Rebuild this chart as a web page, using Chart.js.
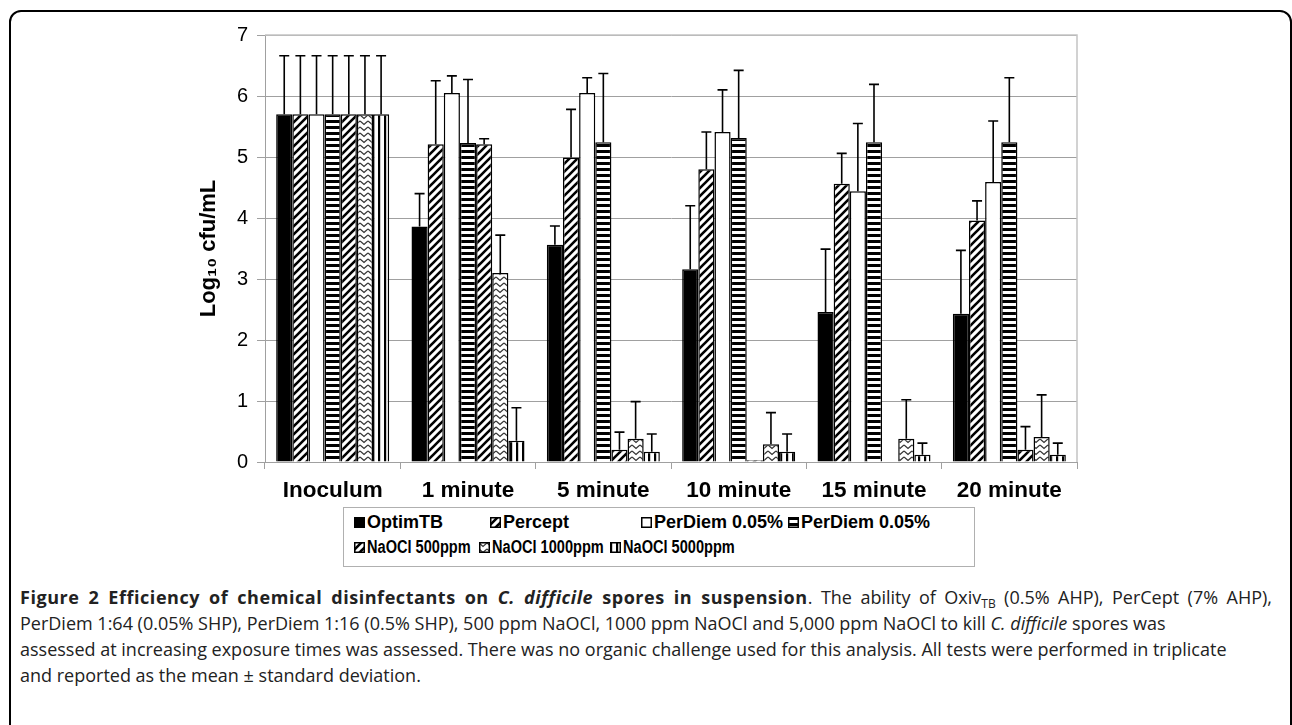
<!DOCTYPE html>
<html>
<head>
<meta charset="utf-8">
<script src="https://cdn.jsdelivr.net/npm/chart.js@4"></script>
<style>
  html, body { margin: 0; padding: 0; background: #fff; }
  body { width: 1292px; height: 725px; position: relative; overflow: hidden; }
  #frame { position: absolute; left: 9px; top: 10px; width: 1283px; height: 760px;
           border: 2px solid #000; border-radius: 12px; box-sizing: border-box; }
  #chart { position: absolute; left: 0; top: 0; }
  #legend { position: absolute; left: 343px; top: 507px; width: 632px; height: 60px;
            border: 1px solid #b0b0b0; box-sizing: border-box;
            font: bold 18px "Liberation Sans", Arial, sans-serif; }
  .item { position: absolute; height: 20px; line-height: 20px; white-space: nowrap; }
  .item canvas { position: absolute; left: 0; top: 5px; }
  .item span { position: absolute; left: 13px; top: 0; transform-origin: 0 50%; }
  #caption { position: absolute; left: 20px; top: 584px; width: 1252px;
             font: 18px "Open Sans", sans-serif; color: #222; line-height: 26px; }
  #caption div { white-space: nowrap; height: 26px; }
  #caption .first { text-align: justify; text-align-last: justify; white-space: normal; }
  #caption b { letter-spacing: 0.55px; }
  #caption sub { font-size: 12px; line-height: 0; vertical-align: -4px; }
</style>
</head>
<body>
<div id="frame"></div>
<canvas id="chart" width="1292" height="505"></canvas>
<div id="legend"></div>
<div id="caption">
  <div class="first"><b>Figure 2 Efficiency of chemical disinfectants on <i>C. difficile</i> spores in suspension</b>. The ability of Oxiv<sub>TB</sub> (0.5% AHP), PerCept (7% AHP),</div>
  <div>PerDiem 1:64 (0.05% SHP), PerDiem 1:16 (0.5% SHP), 500 ppm NaOCl, 1000 ppm NaOCl and 5,000 ppm NaOCl to kill <i>C. difficile</i> spores was</div>
  <div>assessed at increasing exposure times was assessed. There was no organic challenge used for this analysis. All tests were performed in triplicate</div>
  <div>and reported as the mean ± standard deviation.</div>
</div>
<script>
// ── Data ────────────────────────────────────────────────────────────────
const categories = ['Inoculum', '1 minute', '5 minute', '10 minute', '15 minute', '20 minute'];

const seriesNames = ['OptimTB', 'Percept', 'PerDiem 0.05%', 'PerDiem 0.05%',
                     'NaOCl 500ppm', 'NaOCl 1000ppm', 'NaOCl 5000ppm'];

const optimTB      = [5.70, 3.86, 3.56, 3.16, 2.46, 2.43];
const percept      = [5.70, 5.21, 4.99, 4.80, 4.56, 3.96];
const perDiemLow   = [5.70, 6.05, 6.05, 5.41, 4.44, 4.59];
const perDiemHigh  = [5.70, 5.23, 5.24, 5.31, 5.24, 5.24];
const naocl500     = [5.70, 5.21, 0.20, 0.03, null, 0.20];
const naocl1000    = [5.70, 3.10, 0.38, 0.29, 0.38, 0.41];
const naocl5000    = [5.70, 0.35, 0.17, 0.17, 0.12, 0.12];

const optimTBErr     = [0.96, 0.54, 0.31, 1.04, 1.03, 1.04];
const perceptErr     = [0.96, 1.04, 0.79, 0.61, 0.50, 0.32];
const perDiemLowErr  = [0.96, 0.28, 0.25, 0.69, 1.11, 1.00];
const perDiemHighErr = [0.96, 1.04, 1.13, 1.11, 0.95, 1.06];
const naocl500Err    = [0.96, 0.09, 0.29, 0, 0, 0.38];
const naocl1000Err   = [0.96, 0.62, 0.61, 0.52, 0.64, 0.69];
const naocl5000Err   = [0.96, 0.54, 0.29, 0.29, 0.19, 0.19];

const yTicks = [0, 1, 2, 3, 4, 5, 6, 7];

// ── Fill patterns (Excel-like black & white) ────────────────────────────
function tile(w, h, draw) {
  const c = document.createElement('canvas');
  c.width = w; c.height = h;
  const g = c.getContext('2d');
  g.fillStyle = '#fff';
  g.fillRect(0, 0, w, h);
  g.fillStyle = '#000';
  g.strokeStyle = '#000';
  draw(g);
  return c;
}

const TILES = {
  solid: tile(4, 4, g => g.fillRect(0, 0, 4, 4)),
  white: tile(4, 4, () => {}),
  diag: tile(8, 8, g => {
    g.lineWidth = 2.6;
    g.beginPath();
    g.moveTo(-2, 10); g.lineTo(10, -2);
    g.moveTo(-2, 2);  g.lineTo(2, -2);
    g.moveTo(6, 10);  g.lineTo(10, 6);
    g.stroke();
  }),
  hstripe: tile(6, 6, g => g.fillRect(0, 0, 6, 3)),
  zigzag: tile(8, 6, g => {
    g.strokeStyle = '#333';
    g.lineWidth = 1.3;
    g.beginPath();
    g.moveTo(0, 1); g.lineTo(4, 4.5); g.lineTo(8, 1);
    g.stroke();
  }),
  vstripe: tile(6, 6, g => g.fillRect(0, 0, 2.2, 6)),
};

const ctx = document.getElementById('chart').getContext('2d');
const pat = k => ctx.createPattern(TILES[k], 'repeat');

const fills = ['solid', 'diag', 'white', 'hstripe', 'diag', 'zigzag', 'vstripe'];
const values = [optimTB, percept, perDiemLow, perDiemHigh, naocl500, naocl1000, naocl5000];
const errors = [optimTBErr, perceptErr, perDiemLowErr, perDiemHighErr, naocl500Err, naocl1000Err, naocl5000Err];

// ── Plugins ────────────────────────────────────────────────────────────
const errorBars = {
  id: 'errorBars',
  afterDatasetsDraw(chart) {
    const c = chart.ctx, y = chart.scales.y;
    c.save();
    c.strokeStyle = '#000';
    c.lineWidth = 1.6;
    chart.data.datasets.forEach((ds, i) => {
      chart.getDatasetMeta(i).data.forEach((bar, j) => {
        const v = ds.data[j], e = ds.err[j];
        if (v == null || !e) return;
        const top = y.getPixelForValue(v + e);
        c.beginPath();
        c.moveTo(bar.x, bar.y);
        c.lineTo(bar.x, top);
        c.moveTo(bar.x - 5, top);
        c.lineTo(bar.x + 5, top);
        c.stroke();
      });
    });
    c.restore();
  },
};

const plotBorder = {
  id: 'plotBorder',
  beforeDatasetsDraw(chart) {
    const { left, top, right, bottom } = chart.chartArea;
    const c = chart.ctx;
    c.save();
    c.strokeStyle = '#c4c4c4';
    c.lineWidth = 1.5;
    c.beginPath();
    c.moveTo(left, top); c.lineTo(right, top); c.lineTo(right, bottom);
    c.stroke();
    c.restore();
  },
};

// ── Chart ────────────────────────────────────────────────────────────
const chart = new Chart(ctx, {
  type: 'bar',
  data: {
    labels: categories,
    datasets: seriesNames.map((name, i) => ({
      label: name,
      data: values[i],
      err: errors[i],
      backgroundColor: pat(fills[i]),
      borderColor: '#000',
      borderWidth: 1.5,
      borderSkipped: 'bottom',
      categoryPercentage: 0.835,
      barPercentage: 1.0,
    })),
  },
  options: {
    responsive: false,
    animation: false,
    layout: { padding: { left: 195, top: 35, right: 215, bottom: 0 } },
    plugins: { legend: { display: false }, tooltip: { enabled: false } },
    scales: {
      x: {
        afterFit: s => { s.height = 43; },
        grid: { drawOnChartArea: false, drawTicks: true, tickLength: 7, offset: true, color: '#a0a0a0' },
        border: { color: '#a0a0a0', width: 1 },
        ticks: { color: '#000', padding: 8, font: { family: 'Liberation Sans', size: 22.5, weight: 'bold' } },
      },
      y: {
        min: 0,
        max: 7,
        afterFit: s => { s.width = 70; },
        afterBuildTicks: s => { s.ticks = yTicks.map(v => ({ value: v })); },
        grid: { color: '#a0a0a0', lineWidth: 1, tickLength: 8 },
        border: { color: '#a0a0a0', width: 1 },
        ticks: { color: '#000', padding: 9, font: { family: 'Liberation Sans', size: 20 } },
        title: {
          display: true,
          text: 'Log₁₀ cfu/mL',
          color: '#000',
          padding: { top: 1, bottom: 0 },
          font: { family: 'Liberation Sans', size: 22, weight: 'bold' },
        },
      },
    },
  },
  plugins: [plotBorder, errorBars],
});

// ── Legend (HTML, fed from the chart's datasets) ─────────────────────
const legendPos = [[10, 4], [146, 4], [297, 4], [444, 4], [10, 29], [135, 29], [266, 29]];
const legendEl = document.getElementById('legend');
chart.data.datasets.forEach((ds, i) => {
  const item = document.createElement('div');
  item.className = 'item';
  item.style.left = legendPos[i][0] + 'px';
  item.style.top = legendPos[i][1] + 'px';
  const sw = document.createElement('canvas');
  sw.width = 11; sw.height = 11;
  const g = sw.getContext('2d');
  g.fillStyle = g.createPattern(TILES[fills[i]], 'repeat');
  g.fillRect(0, 0, 11, 11);
  g.strokeStyle = '#000';
  g.lineWidth = 1.5;
  g.strokeRect(0.75, 0.75, 9.5, 9.5);
  const txt = document.createElement('span');
  txt.textContent = ds.label;
  if (i >= 4) txt.style.transform = 'scaleX(0.81)';
  item.appendChild(sw);
  item.appendChild(txt);
  legendEl.appendChild(item);
});
</script>
</body>
</html>
